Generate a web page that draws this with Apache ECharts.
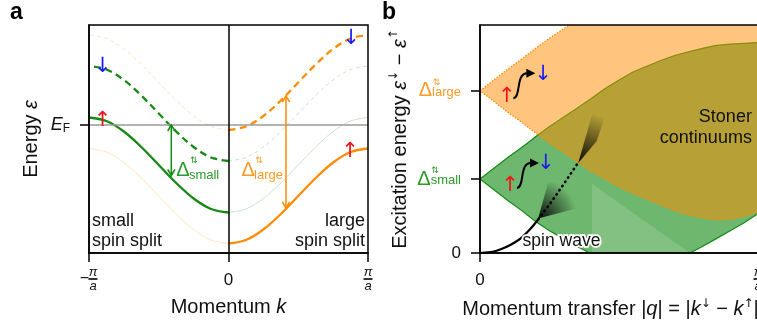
<!DOCTYPE html>
<html>
<head>
<meta charset="utf-8">
<title>Spin-split bands and Stoner continuum</title>
<script src="https://cdn.jsdelivr.net/npm/echarts@6.0.0/dist/echarts.min.js"></script>
<style>
  html, body { margin: 0; padding: 0; background: #ffffff; }
  #chart { width: 757px; height: 323px; }
</style>
</head>
<body>
<div id="chart"></div>
<script>
// ---- Panel a: cosine-like bands, energy relative to E_F, sampled at |k| (units of pi/a)
const kSamples  = [0, 0.125, 0.25, 0.375, 0.5, 0.625, 0.75, 0.875, 1];
const smallUp   = [-1.75, -1.68, -1.47, -1.16, -0.80, -0.44, -0.13, 0.08, 0.15];
const smallDown = [-0.72, -0.65, -0.44, -0.13, 0.23, 0.59, 0.90, 1.11, 1.18];
const largeUp   = [-2.37, -2.30, -2.09, -1.78, -1.42, -1.06, -0.75, -0.54, -0.47];
const largeDown = [-0.10, -0.03, 0.18, 0.49, 0.85, 1.21, 1.52, 1.73, 1.80];

// vertical spin-splitting arrows between the two spin bands
const splitArrowK    = [-0.41, 0.412];
const splitArrowLow  = [-1.01, -1.66];
const splitArrowHigh = [0.0, 0.58];

const kTickValues = [-1, 0, 1];
const kTickLabels = ['−π/a', '0', 'π/a'];
const eTickValues = [0];
const eTickLabels = ['E_F'];

// ---- Panel b: excitation energy vs momentum transfer |q| (units of pi/a)
const qSamples   = [0, 0.05, 0.1, 0.15, 0.2, 0.25, 0.3, 0.35, 0.4, 0.45, 0.5, 0.55, 0.6, 0.65, 0.7, 0.75, 0.8, 0.85, 0.9, 0.95, 1];
const smallUpper = [1.03, 1.18, 1.33, 1.47, 1.62, 1.76, 1.89, 2.02, 2.15, 2.29, 2.41, 2.52, 2.60, 2.68, 2.75, 2.80, 2.85, 2.89, 2.91, 2.92, 2.93];
const smallLower = [1.03, 0.88, 0.73, 0.59, 0.44, 0.31, 0.20, 0.09, -0.01, -0.15, -0.25, -0.30, -0.30, -0.22, -0.11, -0.01, 0.09, 0.20, 0.31, 0.42, 0.55];
const largeUpper = [2.26, 2.41, 2.56, 2.70, 2.85, 2.99, 3.12, 3.25, 3.37, 3.49, 3.60, 3.70, 3.80, 3.88, 3.95, 4.01, 4.06, 4.10, 4.13, 4.15, 4.16];
const largeLower = [2.26, 2.11, 1.96, 1.82, 1.67, 1.53, 1.40, 1.27, 1.14, 1.03, 0.92, 0.83, 0.75, 0.67, 0.59, 0.53, 0.49, 0.46, 0.47, 0.51, 0.57];
const brightQ = [0.403, 0.403, 0.755];
const brightE = [0.96, 0, 0];
const spinWaveQ = [0, 0.03, 0.06, 0.09, 0.12, 0.15, 0.18, 0.21];
const spinWaveE = [0, 0.008, 0.032, 0.075, 0.135, 0.215, 0.33, 0.47];
const dampedQ = [0.21, 0.26, 0.31, 0.355];
const dampedE = [0.47, 0.73, 1.01, 1.27];
const fanLowQ  = [0.209, 0.245, 0.306, 0.378, 0.396];
const fanLowE  = [0.48, 0.975, 1.045, 0.836, 0.669];
const fanHighQ = [0.353, 0.376, 0.405, 0.45, 0.42];
const fanHighE = [1.25, 1.56, 1.95, 1.90, 1.56];

const gapValues = [0, 1.03, 2.26];
const gapLabels = ['0', 'small', 'large'];
const qTickValues = [0, 1];
const qTickLabels = ['0', 'π/a'];

const E_MIN_A = -2.56, E_MAX_A = 2.0;
const E_MAX_B = 3.175;

const SANS = '"Liberation Sans", Arial, Helvetica, sans-serif';
const SYM = '"DejaVu Sans", "Liberation Sans", sans-serif';
const INK = '#111111';
const GREEN = '#148a14';
const GREEN_TXT = '#2a9a2a';
const ORANGE = '#ff8c00';
const ORANGE_TXT = '#ff9a26';
const RED = '#f0141c';
const BLUE = '#1a1af2';

const chart = echarts.init(document.getElementById('chart'), null, { renderer: 'canvas', width: 757, height: 323 });

// ---------- helpers ----------
function halfBand(values, side) {
  return kSamples.map((k, i) => [side * k, values[i]]);
}
function bandSeries(values, side, color, dashed, faint, extra) {
  return Object.assign({
    type: 'line', xAxisIndex: 0, yAxisIndex: 0, silent: true,
    data: halfBand(values, side), smooth: 0.35, symbol: 'none',
    lineStyle: {
      color: color, width: faint ? 1 : 2.3, opacity: faint ? 0.22 : 1,
      type: dashed ? (faint ? [4, 3] : [7, 4.5]) : 'solid'
    },
    z: faint ? 2 : 4
  }, extra || {});
}
function pairs(xs, ys) { return xs.map((x, i) => [x, ys[i]]); }

// stacked fraction tick label such as "π/a" (with optional leading minus)
function fracRich(label) {
  if (label === '0') return '{zero|0}';
  const neg = label.charAt(0) === '−';
  const parts = label.replace('−', '').split('/');
  if (neg) return '{pad| }{num|' + parts[0] + '}\n{neg|−}{bar| }\n{pad| }{den|' + parts[1] + '}';
  return '{num|' + parts[0] + '}\n{bar| }\n{den|' + parts[1] + '}';
}
const fracStyles = {
  zero: { fontSize: 17, fontFamily: SANS, color: INK, lineHeight: 20, align: 'center' },
  num: { fontSize: 13, fontFamily: SANS, fontStyle: 'italic', color: INK, lineHeight: 9, width: 10, align: 'center' },
  den: { fontSize: 13, fontFamily: SANS, fontStyle: 'italic', color: INK, lineHeight: 11, width: 10, align: 'center' },
  bar: { fontSize: 2, width: 9, height: 1.7, lineHeight: 4, backgroundColor: INK, align: 'center' },
  neg: { fontSize: 16, fontFamily: SANS, color: INK, lineHeight: 4, width: 8, align: 'center' },
  pad: { fontSize: 10, lineHeight: 4, width: 8, align: 'center' }
};

function regionSeries(points, style, z) {
  return {
    type: 'custom', xAxisIndex: 1, yAxisIndex: 1, z: z, silent: true, clip: true,
    data: [points[0]],
    renderItem: function (params, api) {
      return { type: 'polygon', shape: { points: points.map(p => api.coord(p)) }, style: style };
    }
  };
}

function fanSeries(qs, es, radial) {
  return {
    type: 'custom', xAxisIndex: 1, yAxisIndex: 1, z: 7, silent: true, clip: true,
    data: [[qs[0], es[0]]],
    renderItem: function (params, api) {
      const pts = qs.map((q, i) => api.coord([q, es[i]]));
      const a = pts[0];
      const stops = [{ offset: 0, color: 'rgba(0,0,0,0.95)' }, { offset: 1, color: 'rgba(0,0,0,0)' }];
      let fill;
      if (radial) {
        fill = new echarts.graphic.RadialGradient(a[0], a[1], 40, stops, true);
      } else {
        const m = [(pts[2][0] + pts[3][0]) / 2, (pts[2][1] + pts[3][1]) / 2];
        fill = new echarts.graphic.LinearGradient(a[0], a[1], m[0], m[1], stops, true);
      }
      return { type: 'polygon', shape: { points: pts }, style: { fill: fill } };
    }
  };
}

function noteSeries(xi, yi, notes) {
  return {
    type: 'custom', xAxisIndex: xi, yAxisIndex: yi, z: 20, silent: true,
    data: notes.map(n => n.at),
    renderItem: function (params, api) {
      const n = notes[params.dataIndex];
      const p = api.coord([api.value(0), api.value(1)]);
      if (n.delta) {
        return {
          type: 'group', children: [
            { type: 'text', x: p[0], y: p[1], style: { text: 'Δ', fontSize: 20, fontFamily: SANS, fill: n.color, align: 'left', verticalAlign: 'middle' } },
            { type: 'text', x: p[0] + 17.5, y: p[1] - 9, style: { text: '⇅', fontSize: 9, fontFamily: SYM, fill: n.color, align: 'center', verticalAlign: 'middle' } },
            { type: 'text', x: p[0] + 12.6, y: p[1] + 5.5, style: { text: n.delta, fontSize: 13, fontFamily: SANS, fill: n.color, align: 'left', verticalAlign: 'middle' } }
          ]
        };
      }
      if (n.squiggle) {
        const x = p[0], y = p[1];
        return {
          type: 'group', children: [
            { type: 'bezierCurve', shape: { x1: x, y1: y, cpx1: x + 8, cpy1: y - 1, cpx2: x + 2, cpy2: y - 25, x2: x + 14, y2: y - 25 }, style: { stroke: '#000', lineWidth: 2, fill: null } },
            { type: 'polygon', shape: { points: [[x + 22, y - 25], [x + 13, y - 29.5], [x + 13, y - 20.5]] }, style: { fill: '#000' } }
          ]
        };
      }
      const st = {
        text: n.text, fontSize: n.size || 18, fontFamily: n.font || SANS, fill: n.color || INK,
        align: n.align || 'center', verticalAlign: n.va || 'middle'
      };
      if (n.lh) st.lineHeight = n.lh;
      if (n.halo) { st.stroke = '#ffffff'; st.lineWidth = 3.5; st.strokeFirst = true; }
      return { type: 'text', x: p[0], y: p[1], style: st };
    }
  };
}

// ---------- panel a annotations ----------
const notesA = [
  { at: [-0.903, 0.09], text: '↑', color: RED, font: SYM, size: 21 },
  { at: [-0.903, 1.16], text: '↓', color: BLUE, font: SYM, size: 21 },
  { at: [0.879, 1.73], text: '↓', color: BLUE, font: SYM, size: 21 },
  { at: [0.871, -0.54], text: '↑', color: RED, font: SYM, size: 21 },
  { at: [-0.374, -0.9], delta: 'small', color: GREEN_TXT },
  { at: [0.093, -0.9], delta: 'large', color: ORANGE_TXT },
  { at: [-0.978, -2.52], text: 'small\nspin split', align: 'left', va: 'bottom', lh: 20, size: 18 },
  { at: [0.978, -2.52], text: 'large\nspin split', align: 'right', va: 'bottom', lh: 20, size: 18 }
];

// ---------- panel b annotations ----------
const notesB = [
  { at: [0.096, 2.18], text: '↑', color: RED, font: SYM, size: 21 },
  { at: [0.227, 2.49], text: '↓', color: BLUE, font: SYM, size: 21 },
  { at: [0.108, 0.933], text: '↑', color: RED, font: SYM, size: 21 },
  { at: [0.237, 1.24], text: '↓', color: BLUE, font: SYM, size: 21 },
  { at: [0.120, 2.155], squiggle: true },
  { at: [0.133, 0.905], squiggle: true },
  { at: [0.978, 1.75], text: 'Stoner\ncontinuums', align: 'right', lh: 21, size: 18 },
  { at: [0.293, 0.167], text: 'spin wave', size: 17.5, halo: true }
];

const greenRegion = pairs(qSamples, smallUpper).concat(pairs(qSamples, smallLower).reverse());
const orangeRegion = pairs(qSamples, largeUpper).concat(pairs(qSamples, largeLower).reverse());
const brightRegion = pairs(brightQ, brightE);

const axisLineStyle = { color: '#000', width: 1.5 };

const option = {
  animation: false,
  backgroundColor: '#ffffff',
  title: [
    { text: 'a', left: 10, top: 1, padding: 0, textStyle: { fontSize: 23, fontWeight: 'bold', fontFamily: SANS, color: '#000' } },
    { text: 'b', left: 382, top: 1, padding: 0, textStyle: { fontSize: 23, fontWeight: 'bold', fontFamily: SANS, color: '#000' } }
  ],
  grid: [
    { left: 89, top: 25, width: 279, height: 228, outerBoundsMode: 'none', show: true, borderColor: '#000', borderWidth: 1.5, backgroundColor: 'transparent', z: 10 },
    { left: 480, top: 25, width: 278, height: 228, outerBoundsMode: 'none', show: true, borderColor: '#000', borderWidth: 1.5, backgroundColor: 'transparent', z: 10 }
  ],
  xAxis: [
    {
      gridIndex: 0, type: 'value', min: -1, max: 1, interval: 1, z: 10,
      axisLine: { show: true, onZero: false, lineStyle: axisLineStyle },
      axisTick: { show: true, length: 9, lineStyle: axisLineStyle },
      splitLine: { show: false },
      axisLabel: {
        margin: 27, verticalAlign: 'middle', align: 'center', showMinLabel: true, showMaxLabel: true,
        formatter: v => { const i = kTickValues.indexOf(v); return i < 0 ? '' : fracRich(kTickLabels[i]); },
        rich: fracStyles
      },
      name: 'Momentum {i|k}', nameLocation: 'middle', nameGap: 52,
      nameTextStyle: { fontSize: 20, fontFamily: SANS, color: INK, verticalAlign: 'middle', rich: { i: { fontSize: 20, fontFamily: SANS, fontStyle: 'italic', color: INK } } }
    },
    {
      gridIndex: 1, type: 'value', min: 0, max: 1, interval: 1, z: 10,
      axisLine: { show: true, onZero: false, lineStyle: axisLineStyle },
      axisTick: { show: true, length: 9, lineStyle: axisLineStyle },
      splitLine: { show: false },
      axisLabel: {
        margin: 27, verticalAlign: 'middle', align: 'center', showMinLabel: true, showMaxLabel: true,
        formatter: v => { const i = qTickValues.indexOf(v); return i < 0 ? '' : fracRich(qTickLabels[i]); },
        rich: fracStyles
      },
      name: 'Momentum transfer |{i|q}| = |{i|k}{s|↓} − {i|k}{s|↑}|', nameLocation: 'middle', nameGap: 52,
      nameTextStyle: {
        fontSize: 20, fontFamily: SANS, color: INK, verticalAlign: 'middle', lineHeight: 24, padding: [0, 17, 0, 0],
        rich: {
          i: { fontSize: 20, fontFamily: SANS, fontStyle: 'italic', color: INK, lineHeight: 24 },
          s: { fontSize: 12, fontFamily: SYM, color: INK, verticalAlign: 'top', lineHeight: 10 }
        }
      }
    }
  ],
  yAxis: [
    {
      gridIndex: 0, type: 'value', min: E_MIN_A, max: E_MAX_A, z: 10,
      axisLine: { show: true, onZero: false, lineStyle: axisLineStyle },
      axisTick: { show: true, length: 9, customValues: eTickValues, lineStyle: axisLineStyle },
      splitLine: { show: false },
      axisLabel: {
        customValues: eTickValues, margin: 19,
        formatter: v => { const i = eTickValues.indexOf(v); if (i < 0) return ''; const s = eTickLabels[i].split('_'); return '{e|' + s[0] + '}{f|' + s[1] + '}'; },
        rich: {
          e: { fontSize: 18, fontFamily: SANS, fontStyle: 'italic', color: INK, lineHeight: 20 },
          f: { fontSize: 12, fontFamily: SANS, color: INK, verticalAlign: 'bottom', lineHeight: 13 }
        }
      },
      name: 'Energy {i|ε}', nameLocation: 'middle', nameGap: 58, nameRotate: 90,
      nameTextStyle: { fontSize: 20, fontFamily: SANS, color: INK, verticalAlign: 'middle', rich: { i: { fontSize: 20, fontFamily: SANS, fontStyle: 'italic', color: INK } } }
    },
    {
      gridIndex: 1, type: 'value', min: 0, max: E_MAX_B, z: 10,
      axisLine: { show: true, onZero: false, lineStyle: axisLineStyle },
      axisTick: { show: true, length: 9, customValues: gapValues, lineStyle: axisLineStyle },
      splitLine: { show: false },
      axisLabel: {
        customValues: gapValues, margin: 19,
        formatter: v => {
          const i = gapValues.indexOf(v);
          if (i < 0) return '';
          const lab = gapLabels[i];
          if (lab === '0') return '{z|0}';
          const c = lab === 'small' ? 'G' : 'O';
          return '{gap' + c + '| }{sup' + c + '|⇅}\n{d' + c + '|Δ}{sub' + c + '|' + lab + '}\n{gap' + c + '| }';
        },
        rich: {
          z: { fontSize: 17, fontFamily: SANS, color: INK },
          gapG: { width: 14, lineHeight: 1, fontSize: 8, align: 'left' },
          gapO: { width: 14, lineHeight: 1, fontSize: 8, align: 'left' },
          supG: { fontSize: 9, fontFamily: SYM, color: GREEN_TXT, lineHeight: 1, align: 'left' },
          supO: { fontSize: 9, fontFamily: SYM, color: ORANGE_TXT, lineHeight: 1, align: 'left' },
          dG: { fontSize: 20, fontFamily: SANS, color: GREEN_TXT, lineHeight: 16, align: 'left' },
          dO: { fontSize: 20, fontFamily: SANS, color: ORANGE_TXT, lineHeight: 16, align: 'left' },
          subG: { fontSize: 13, fontFamily: SANS, color: GREEN_TXT, lineHeight: 5, verticalAlign: 'bottom', align: 'left' },
          subO: { fontSize: 13, fontFamily: SANS, color: ORANGE_TXT, lineHeight: 5, verticalAlign: 'bottom', align: 'left' }
        }
      },
      name: 'Excitation energy {i|ε}{s|↓}{t| − }{i|ε}{s|↑}', nameLocation: 'middle', nameGap: 80, nameRotate: 90,
      nameTextStyle: {
        fontSize: 20, fontFamily: SANS, color: INK, verticalAlign: 'middle', lineHeight: 24,
        rich: {
          i: { fontSize: 20, fontFamily: SANS, fontStyle: 'italic', color: INK, lineHeight: 24 },
          t: { fontSize: 20, fontFamily: SANS, color: INK, lineHeight: 24 },
          s: { fontSize: 12, fontFamily: SYM, color: INK, verticalAlign: 'top', lineHeight: 10 }
        }
      }
    }
  ],
  series: [
    // panel a: faint copies of the other material's bands, plus E_F and k = 0 guides
    bandSeries(largeDown, -1, ORANGE, true, true, {
      markLine: {
        silent: true, symbol: 'none', label: { show: false },
        data: [
          { yAxis: 0, lineStyle: { color: '#9a9a9a', width: 1.5, type: 'solid', opacity: 1 } },
          { xAxis: 0, lineStyle: { color: '#000', width: 1.5, type: 'solid', opacity: 1 } }
        ]
      }
    }),
    bandSeries(largeUp, -1, ORANGE, false, true),
    bandSeries(smallDown, 1, GREEN, true, true),
    bandSeries(smallUp, 1, GREEN, false, true),
    // panel a: bold bands
    bandSeries(smallDown, -1, GREEN, true, false),
    bandSeries(smallUp, -1, GREEN, false, false),
    bandSeries(largeDown, 1, ORANGE, true, false),
    bandSeries(largeUp, 1, ORANGE, false, false),
    // panel a: splitting arrows
    {
      type: 'custom', xAxisIndex: 0, yAxisIndex: 0, z: 6, silent: true,
      data: splitArrowK.map((k, i) => [k, splitArrowLow[i], splitArrowHigh[i], i]),
      renderItem: function (params, api) {
        const k = api.value(0);
        const color = api.value(3) ? ORANGE : GREEN;
        const a = api.coord([k, api.value(2)]);
        const b = api.coord([k, api.value(1)]);
        const h = 6, w = 3.6;
        const ls = { stroke: color, lineWidth: 1.5, fill: null };
        return {
          type: 'group', children: [
            { type: 'line', shape: { x1: a[0], y1: a[1], x2: b[0], y2: b[1] }, style: ls },
            { type: 'polyline', shape: { points: [[a[0] - w, a[1] + h], [a[0], a[1]], [a[0] + w, a[1] + h]] }, style: ls },
            { type: 'polyline', shape: { points: [[b[0] - w, b[1] - h], [b[0], b[1]], [b[0] + w, b[1] - h]] }, style: ls }
          ]
        };
      }
    },
    noteSeries(0, 0, notesA),

    // panel b: continua
    regionSeries(greenRegion, { fill: 'rgba(0,128,0,0.57)', stroke: GREEN, lineWidth: 1.2 }, 2),
    regionSeries(brightRegion, { fill: 'rgba(255,255,255,0.15)' }, 3),
    fanSeries(fanLowQ, fanLowE, true),
    regionSeries(orangeRegion, { fill: 'rgba(255,140,0,0.5)', stroke: ORANGE, lineWidth: 1.3, lineDash: [1.5, 1.5] }, 5),
    fanSeries(fanHighQ, fanHighE, false),
    {
      type: 'line', xAxisIndex: 1, yAxisIndex: 1, z: 8, silent: true, symbol: 'none', smooth: 0.3,
      data: pairs(spinWaveQ, spinWaveE),
      lineStyle: { color: '#000', width: 2.2 }
    },
    {
      type: 'line', xAxisIndex: 1, yAxisIndex: 1, z: 8, silent: true, symbol: 'none',
      data: pairs(dampedQ, dampedE),
      lineStyle: { color: '#000', width: 2.6, type: [0.5, 4.6], cap: 'round' }
    },
    noteSeries(1, 1, notesB)
  ]
};
chart.setOption(option);
</script>
</body>
</html>
